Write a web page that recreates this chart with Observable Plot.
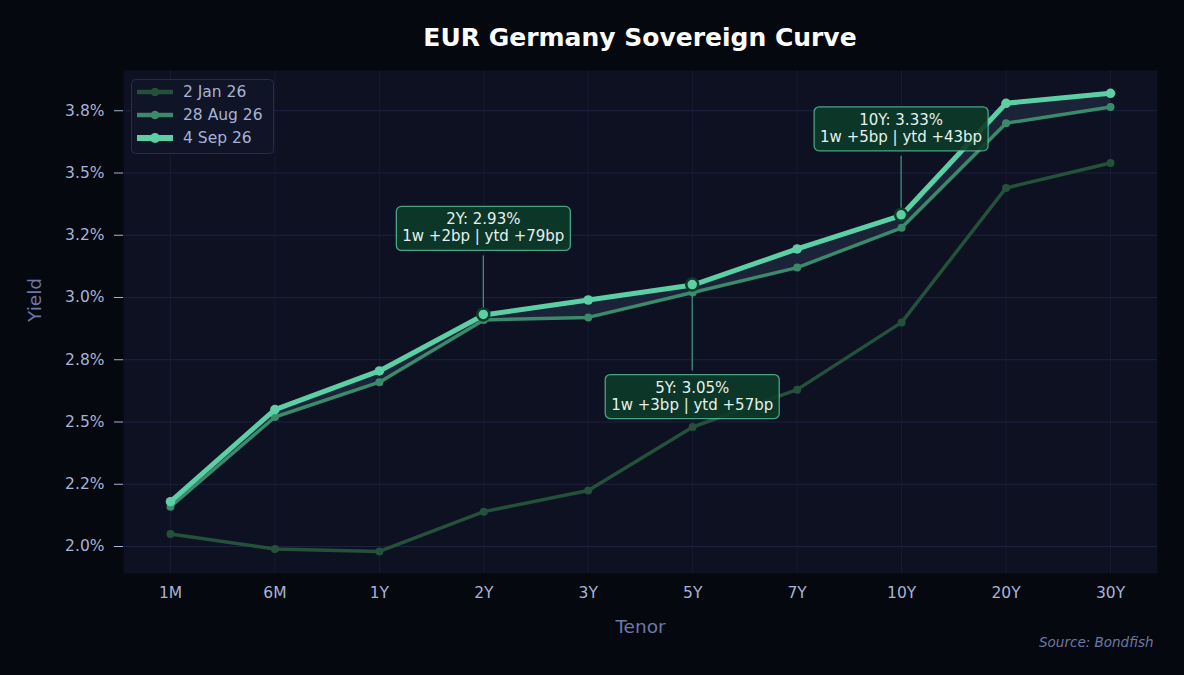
<!DOCTYPE html>
<html>
<head>
<meta charset="utf-8">
<script src="https://cdn.jsdelivr.net/npm/d3@7"></script>
<script src="https://cdn.jsdelivr.net/npm/@observablehq/plot@0.6"></script>
<style>
  html, body { margin: 0; padding: 0; background: #05080f; }
  #wrap { position: relative; width: 1184px; height: 675px; overflow: hidden; font-family: "DejaVu Sans", sans-serif; }
  #title { position: absolute; left: 123px; top: 22px; width: 1034px; text-align: center; color: #ffffff; font-weight: bold; font-size: 25px; line-height: 32px; }
  #chart { position: absolute; left: 0; top: 0; }
  #legend { position: absolute; left: 131px; top: 79px; }
</style>
</head>
<body>
<div id="wrap">
  <div id="chart"></div>
  <div id="title">EUR Germany Sovereign Curve</div>
  <svg id="legend" width="143" height="75"></svg>
</div>
<script>
// ---------- data ----------
const tenors = ["1M", "6M", "1Y", "2Y", "3Y", "5Y", "7Y", "10Y", "20Y", "30Y"];
const seriesNames = ["2 Jan 26", "28 Aug 26", "4 Sep 26"];
const yieldsJan = [2.05, 1.99, 1.98, 2.14, 2.225, 2.48, 2.63, 2.90, 3.44, 3.54];
const yieldsAug = [2.16, 2.52, 2.66, 2.91, 2.92, 3.02, 3.12, 3.28, 3.70, 3.765];
const yieldsSep = [2.18, 2.55, 2.705, 2.93, 2.99, 3.05, 3.195, 3.33, 3.78, 3.82];
const yTicks = [2.0, 2.25, 2.5, 2.75, 3.0, 3.25, 3.5, 3.75];
const yTickLabels = ["2.0%", "2.2%", "2.5%", "2.8%", "3.0%", "3.2%", "3.5%", "3.8%"];
const annotTenors = ["2Y", "5Y", "10Y"];
const annotYields = [2.93, 3.05, 3.33];
const annotWeekBp = [2, 3, 5];
const annotYtdBp = [79, 57, 43];
const sourceText = "Source: Bondfish";

// ---------- styles ----------
const colors = ["#245139", "#3b8a6b", "#5ccfa5"];
const widths = [3.5, 3.5, 5];
const radii = [4, 4, 4.8];
const tickColor = "#a9b2d4";
const labelColor = "#6d78a8";
const annotSide = {"2Y": -1, "5Y": 1, "10Y": -1};

const rows = tenors.map((t, i) => ({tenor: t, jan: yieldsJan[i], aug: yieldsAug[i], sep: yieldsSep[i]}));
const annotRows = annotTenors.map((t, i) => ({
  tenor: t, value: annotYields[i],
  line1: `${t}: ${annotYields[i].toFixed(2)}%`,
  line2: `1w +${annotWeekBp[i]}bp | ytd +${annotYtdBp[i]}bp`
}));
const tickLabelOf = new Map(yTicks.map((t, i) => [t, yTickLabels[i]]));
const keys = ["jan", "aug", "sep"];

const seriesMarks = keys.flatMap((k, s) => [
  Plot.line(rows, {x: "tenor", y: k, stroke: colors[s], strokeWidth: widths[s], strokeLinejoin: "round", strokeLinecap: "round"}),
  Plot.dot(rows, {x: "tenor", y: k, r: radii[s], fill: colors[s], stroke: "none"})
]);

const annotationMark = Plot.dot(annotRows, {
  x: "tenor", y: "value",
  render(index, scales, values) {
    const g = d3.create("svg:g");
    const bw = 174, bh = 44;
    for (const i of index) {
      const d = annotRows[i];
      const px = values.x[i], py = values.y[i];
      const side = annotSide[d.tenor];
      const cy = side < 0 ? py - 86 : py + 112;
      const y0 = cy - bh / 2, y1 = cy + bh / 2;
      g.append("line")
        .attr("x1", px).attr("x2", px)
        .attr("y1", side < 0 ? y1 + 5 : y0 - 4)
        .attr("y2", side < 0 ? py - 5 : py + 5)
        .attr("stroke", "#3f8f7b").attr("stroke-width", 1.3);
      g.append("circle").attr("cx", px).attr("cy", py).attr("r", 6)
        .attr("fill", colors[2]).attr("stroke", "#0c3b28").attr("stroke-width", 2.5);
      g.append("rect").attr("x", px - bw / 2).attr("y", y0).attr("width", bw).attr("height", bh)
        .attr("rx", 5).attr("fill", "#0c3b28").attr("fill-opacity", 0.9)
        .attr("stroke", colors[2]).attr("stroke-opacity", 0.75).attr("stroke-width", 1.3);
      const t = g.append("text").attr("text-anchor", "middle").attr("fill", "#e6f0ec")
        .attr("font-size", 15).attr("font-family", "DejaVu Sans");
      t.append("tspan").attr("x", px).attr("y", cy - 4).text(d.line1);
      t.append("tspan").attr("x", px).attr("y", cy + 13).text(d.line2);
    }
    return g.node();
  }
});

const plot = Plot.plot({
  width: 1184,
  height: 675,
  marginTop: 70,
  marginBottom: 102,
  marginLeft: 123,
  marginRight: 27,
  style: {background: "transparent", fontFamily: "DejaVu Sans, sans-serif", fontSize: "15.5px", color: tickColor},
  x: {type: "point", domain: tenors, padding: 0.45, round: false},
  y: {domain: [1.8916, 3.9116]},
  marks: [
    Plot.frame({fill: "#0d1122", stroke: "none"}),
    Plot.gridX(tenors, {stroke: "#161b30", strokeOpacity: 1}),
    Plot.gridY(yTicks, {stroke: "#1c2240", strokeOpacity: 1}),
    Plot.axisX({tickSize: 0, tickPadding: 13, label: null, fill: tickColor, fontSize: 15.5}),
    Plot.axisY(yTicks, {tickFormat: d => tickLabelOf.get(d), tickSize: 9, tickPadding: 10, label: null, stroke: tickColor, fill: tickColor, fontSize: 15.5}),
    Plot.text(["Tenor"], {text: d => d, frameAnchor: "bottom", dy: 59, lineAnchor: "bottom", fill: labelColor, fontSize: 18.5}),
    Plot.text(["Yield"], {text: d => d, frameAnchor: "left", dx: -88, rotate: -90, fill: labelColor, fontSize: 18.5}),
    Plot.text([sourceText], {text: d => d, frameAnchor: "bottom-right", dx: -4, dy: 73, lineAnchor: "bottom", textAnchor: "end", fill: "#6d78a6", fontSize: 13.5, fontStyle: "italic"}),
    Plot.areaY(rows, {x: "tenor", y1: "aug", y2: "sep", fill: "#1a2338", curve: "linear"}),
    ...seriesMarks,
    annotationMark
  ]
});
document.getElementById("chart").appendChild(plot);

// ---------- legend ----------
const leg = d3.select("#legend");
leg.append("rect").attr("x", 0.5).attr("y", 0.5).attr("width", 142).attr("height", 74).attr("rx", 4)
  .attr("fill", "#0f1427").attr("stroke", "#262c47");
seriesNames.forEach((name, s) => {
  const y = 13 + s * 23;
  leg.append("line").attr("x1", 6).attr("x2", 42).attr("y1", y).attr("y2", y)
    .attr("stroke", colors[s]).attr("stroke-width", s === 2 ? 6 : 4.3);
  leg.append("circle").attr("cx", 24).attr("cy", y).attr("r", s === 2 ? 5 : 4.3).attr("fill", colors[s]);
  leg.append("text").attr("x", 52).attr("y", y).attr("dy", "0.35em").attr("fill", tickColor)
    .attr("font-size", 15.5).attr("font-family", "DejaVu Sans").text(name);
});
</script>
</body>
</html>
